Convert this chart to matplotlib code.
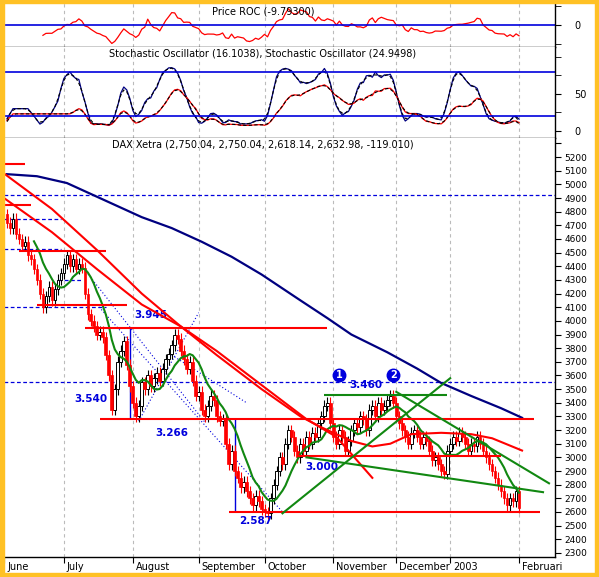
import numpy as np
import matplotlib
matplotlib.use("Agg")
import matplotlib.pyplot as plt
from matplotlib.ticker import MultipleLocator, FixedLocator
from matplotlib.patches import Rectangle

closes = [4720,4680,4750,4640,4600,4550,4580,4480,4450,4380,4300,4200,4100,4180,4250,4150,4230,4300,4350,
          4420,4480,4400,4450,4380,4420,4390,4200,4050,4000,3960,3900,3920,3880,3750,3600,3350,3500,3700,3780,3850,3680,3520,
          3400,3300,3380,3550,3500,3600,3520,3580,3620,3560,3650,3720,3760,3820,3900,3870,3780,3720,3650,3700,3560,3450,
          3480,3350,3300,3380,3450,3420,3300,3270,3280,3100,2950,3050,2900,2850,2780,2820,2750,2700,2650,2720,2680,2620,
          2600,2590,2700,2800,2900,3000,2950,3100,3200,3150,3050,3000,3100,3050,3150,3100,3180,3150,3250,3300,3380,3400,3250,
          3150,3100,3200,3150,3050,3120,3200,3250,3220,3300,3280,3200,3350,3380,3300,3400,3350,3380,3420,3450,3400,
          3300,3250,3200,3150,3100,3180,3200,3150,3100,3150,3120,3050,2980,3000,2950,2900,2880,3050,
          3100,3150,3120,3180,3150,3100,3050,3100,3080,3150,3100,3050,3000,2950,2900,2850,2800,2750,2700,2650,2700,2680,2750,2630]
first_open = 4780
month_labels = ["June", "July", "August", "September", "October", "November", "December", "2003", "Februari"]
month_pos = [-1, 19, 42, 64, 86, 109, 130, 148, 171]

blue_ma_i = [0,10,20,32,45,55,65,75,85,98,107,115,127,137,145,155,165,172]
blue_ma_v = [5075,5060,5010,4890,4760,4680,4580,4470,4340,4150,4020,3900,3770,3650,3545,3450,3360,3290]
red1_i = [-1,15,30,45,58,70,85,100,110,122]
red1_v = [5080,4820,4520,4200,3960,3780,3530,3280,3150,2850]
red2_i = [-1,15,30,45,58,70,85,98,105,115,122,128,135,145,155,162,172]
red2_v = [4900,4650,4380,4120,3960,3750,3500,3300,3220,3120,3080,3100,3170,3180,3170,3140,3050]

closes = np.array(closes, float)
n = len(closes)
idx = np.arange(n)
opens = np.concatenate([[first_open], closes[:-1]])
wick = 40
highs = np.maximum(opens, closes) + wick
lows = np.minimum(opens, closes) - wick

W, H = 599, 577
fig = plt.figure(figsize=(W/100, H/100), dpi=100)
fig.patch.set_facecolor("white")
Y = "#FFC125"
for r in [(0, 0, 4/W, 1), (0, 0, 1, 4/H), (0, 1-3/H, 1, 3/H), (1-4/W, 0, 4/W, 1)]:
    fig.add_artist(Rectangle(r[:2], r[2], r[3], transform=fig.transFigure, color=Y, zorder=10))
L, R = 4/W, 555/W
def ax_at(top, bot):
    a = fig.add_axes([L, 1-bot/H, R-L, (bot-top)/H])
    a.set_facecolor("white")
    return a
ax1 = ax_at(3, 47)
ax2 = ax_at(47, 138)
ax3 = ax_at(138, 557)

xl = (-1, 183)
for a in (ax1, ax2, ax3):
    a.set_xlim(*xl)
    for p in month_pos[1:]:
        a.axvline(p, color="#bbbbbb", ls=(0, (3, 3)), lw=0.8, zorder=0)
    a.yaxis.tick_right()
    a.tick_params(axis="y", labelsize=7, direction="out", length=4, pad=10)
    a.tick_params(axis="x", labelbottom=False, length=0)
    for s in a.spines.values():
        s.set_linewidth(1)
    a.spines["top"].set_visible(False)
    a.spines["left"].set_visible(False)

roc = np.full(n, np.nan)
k = 12
roc[k:] = (closes[k:] / closes[:-k] - 1) * 100
ax1.plot(idx, roc, color="red", lw=0.9)
ax1.axhline(0, color="#0000dd", lw=1.2)
ax1.set_ylim(-28, 28)
ax1.yaxis.set_major_locator(FixedLocator([0]))
ax1.yaxis.set_minor_locator(FixedLocator([-24, 24]))
ax1.tick_params(axis="y", which="minor", length=4)
ax1.text(0.47, 0.8, "Price ROC (-9.79300)", transform=ax1.transAxes, ha="center", va="center", fontsize=7)

def stoch(period, smooth):
    kk = np.full(n, np.nan)
    for i in range(period-1, n):
        hh = highs[i-period+1:i+1].max(); ll = lows[i-period+1:i+1].min()
        kk[i] = (closes[i]-ll)/(hh-ll)*100
    ks = np.convolve(np.nan_to_num(kk, nan=30), np.ones(smooth)/smooth, mode="same")
    ds = np.convolve(ks, np.ones(3)/3, mode="same")
    return ks, ds
k1, d1 = stoch(10, 4)
k2, d2 = stoch(24, 4)
ax2.plot(idx, k1*0.9+3, color="#000080", lw=0.9)
ax2.plot(idx, d1*0.9+3, color="black", lw=0.8, ls=(0, (3, 2)))
ax2.plot(idx, k2*0.6+5, color="red", lw=0.9)
ax2.plot(idx, d2*0.6+5, color="black", lw=0.8, ls=(0, (3, 2)))
for lv in (20, 80):
    ax2.axhline(lv, color="#0000dd", lw=1.2)
ax2.set_ylim(-9.5, 113)
ax2.yaxis.set_major_locator(FixedLocator([0, 50]))
ax2.yaxis.set_minor_locator(FixedLocator([25, 75, 100]))
ax2.tick_params(axis="y", which="minor", length=4)
ax2.text(0.47, 0.93, "Stochastic Oscillator (16.1038), Stochastic Oscillator (24.9498)",
         transform=ax2.transAxes, ha="center", va="center", fontsize=7)

ax3.set_ylim(2270, 5340)
ax3.yaxis.set_major_locator(MultipleLocator(100))
ax3.yaxis.set_major_formatter(plt.FuncFormatter(lambda v, p: f"{int(v)}" if 2300 <= v <= 5200 else ""))
ax3.tick_params(axis="y", labelsize=6.5, pad=3)
ax3.text(0.47, 0.985, "DAX Xetra (2,750.04, 2,750.04, 2,618.14, 2,632.98, -119.010)",
         transform=ax3.transAxes, ha="center", va="center", fontsize=7)

up = closes >= opens
ax3.vlines(idx, lows, highs, color=np.where(up, "black", "red"), lw=0.8, zorder=3)
ax3.bar(idx[up], (closes-opens)[up], bottom=opens[up], width=0.9, color="white", edgecolor="black", lw=0.7, zorder=4)
ax3.bar(idx[~up], (opens-closes)[~up], bottom=closes[~up], width=0.9, color="red", edgecolor="red", lw=0.5, zorder=4)

green = np.convolve(closes, np.ones(10)/10, mode="valid")
ax3.plot(idx[9:], green, color="#118811", lw=1.5, zorder=5)
ax3.plot(blue_ma_i, blue_ma_v, color="#000080", lw=1.6, zorder=5)
ax3.plot(red1_i, red1_v, color="red", lw=1.5, zorder=5)
ax3.plot(red2_i, red2_v, color="red", lw=1.5, zorder=5)

for y, a, b in [(4920, -1, 183), (3550, -1, 183), (4750, -1, 18), (4530, -1, 18), (4100, -1, 33), (4300, 17, 25)]:
    ax3.hlines(y, a, b, color="#0000dd", lw=0.9, ls=(0, (3, 2)), zorder=2)
for y, a, b in [(5150, -1, 6), (4850, -1, 8), (4510, 4, 33), (4120, 10, 40), (3950, 26, 107),
                (3280, 31, 176), (3010, 97, 165), (2600, 74, 178)]:
    ax3.hlines(y, a, b, color="red", lw=1.5, zorder=6)
for (a, b, c, d) in [(92, 2590, 148, 3580), (100, 3000, 179, 2745), (130, 3480, 181, 2810)]:
    ax3.plot([a, c], [b, d], color="#118811", lw=1.5, zorder=6)
ax3.hlines(3460, 106, 147, color="#118811", lw=1.5, zorder=6)
ax3.vlines(41, 3280, 3950, color="#0000dd", lw=1)
ax3.vlines(76, 2600, 3280, color="#0000dd", lw=1)
for (a, b, c, d) in [(25, 4400, 66, 3260), (44, 3266, 64, 4060), (30, 4120, 92, 2600), (55, 3750, 80, 3400)]:
    ax3.plot([a, c], [b, d], color="#0000dd", lw=0.8, ls=(0, (1, 2)))

for t, x, y in [("3.945", 48, 4040), ("3.540", 28, 3430), ("3.266", 55, 3180), ("3.000", 105, 2930),
                ("2.587", 83, 2535), ("3.460", 120, 3530)]:
    ax3.text(x, y, t, color="#0000dd", fontsize=7.5, fontweight="bold", ha="center", va="center")
for t, x in [("1", 111), ("2", 129)]:
    ax3.plot(x, 3605, "o", ms=9, color="#0000dd", zorder=7)
    ax3.text(x, 3605, t, color="white", fontsize=7, fontweight="bold", ha="center", va="center", zorder=8)

ax3.xaxis.set_major_locator(FixedLocator(month_pos))
ax3.tick_params(axis="x", length=4, direction="out")
for t, p in zip(month_labels, month_pos):
    ax3.text(p+1, 2230, t, fontsize=7, ha="left", va="top")

fig.savefig("out.png", dpi=100, facecolor=fig.get_facecolor())
